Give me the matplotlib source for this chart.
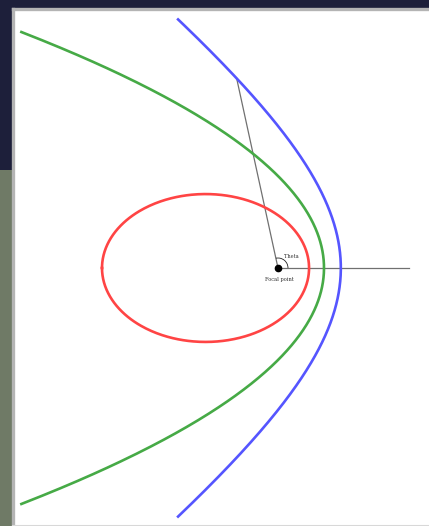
import numpy as np
import matplotlib.pyplot as plt
from matplotlib.patches import Arc, Rectangle

# conic sections sharing one focus, polar form r = l / (1 + e cos(theta))
names = ["ellipse", "parabola", "hyperbola"]
eccentricity = [0.70, 1.0, 1.26]
semi_latus = [52.8, 92.0, 142.0]
theta_max_deg = [180.0, 137.4, 111.9]
colors = ["#ff4444", "#46aa46", "#5555ff"]

theta_deg = 102.3          # angle of the sample ray
ray_length = 131.0         # horizontal reference line length
labels = ["Theta", "Focal point"]

W, H = 429, 526
fig = plt.figure(figsize=(W / 100, H / 100), dpi=100)
fig.patch.set_facecolor("#1d1f3a")

# photo strip on the left edge of the screenshot
fig.add_artist(Rectangle((0, 0), 13 / W, 1 - 170 / H, transform=fig.transFigure,
                         facecolor="#6f7a66", edgecolor="none", zorder=0))

ax = fig.add_axes([13 / W, 0, 1 - 13 / W, 1 - 9 / H])
ax.set_facecolor("white")
ax.set_xlim(-265, 151)
ax.set_ylim(-258, 259)
ax.set_aspect("auto")
ax.set_xticks([])
ax.set_yticks([])
for side in ["left", "top"]:
    ax.spines[side].set_color("#b4b4b4")
    ax.spines[side].set_linewidth(2.4)
ax.spines["right"].set_visible(False)
ax.spines["bottom"].set_color("#d8d8d8")
ax.spines["bottom"].set_linewidth(1.5)

for e, l, tmax, c in zip(eccentricity, semi_latus, theta_max_deg, colors):
    t = np.radians(np.linspace(-tmax, tmax, 600))
    r = l / (1 + e * np.cos(t))
    ax.plot(r * np.cos(t), r * np.sin(t), color=c, lw=1.9, zorder=3)

# ray from focus to hyperbola and horizontal axis line
t = np.radians(theta_deg)
r_h = semi_latus[2] / (1 + eccentricity[2] * np.cos(t))
ax.plot([0, r_h * np.cos(t)], [0, r_h * np.sin(t)], color="#707070", lw=0.9, zorder=2)
ax.plot([0, ray_length], [0, 0], color="#707070", lw=0.9, zorder=2)

ax.add_patch(Arc((0, 0), 20, 20, theta1=0, theta2=theta_deg, color="#222222", lw=0.6, zorder=4))
ax.plot(0, 0, "o", color="black", ms=4.5, zorder=5)
ax.text(6, 11, labels[0], fontsize=3.6, family="DejaVu Serif", color="#333333",
        ha="left", va="center")
ax.text(1, -12, labels[1], fontsize=3.6, family="DejaVu Serif", color="#333333",
        ha="center", va="center")

plt.savefig("out.png", dpi=100, facecolor=fig.get_facecolor())
